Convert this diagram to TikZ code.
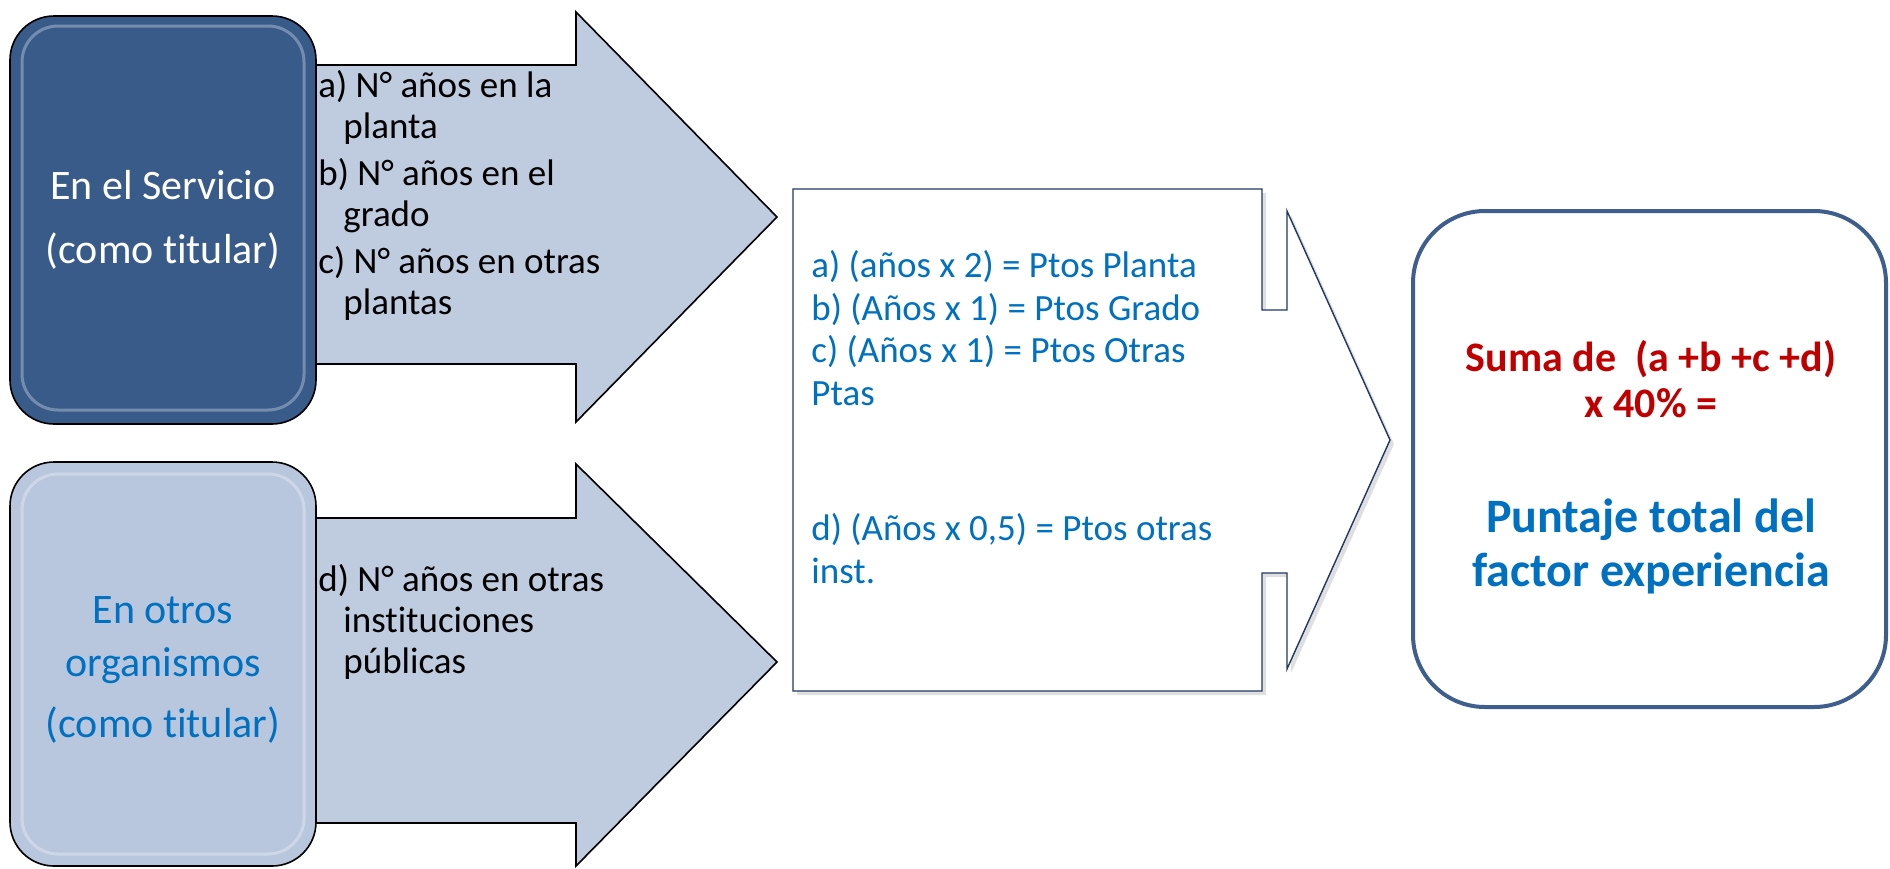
\documentclass[tikz,border=0pt]{standalone}
\usepackage{fontspec}
\setmainfont[Ligatures=NoCommon]{Carlito}
\usetikzlibrary{shadows}
\definecolor{darkbox}{HTML}{395B8A}
\definecolor{lightbox}{HTML}{B9C7DE}
\definecolor{arrowfill}{HTML}{BFCBDF}
\definecolor{txtblue}{HTML}{0070C0}
\definecolor{txtred}{HTML}{C00000}
\definecolor{frameblue}{HTML}{3E5F8E}
\definecolor{navy}{HTML}{1F3864}
\begin{document}
\begin{tikzpicture}[x=0.5pt,y=-0.5pt,
  arrowshape/.style={draw=black, line width=0.8pt, fill=arrowfill, line join=miter},
  srcbox/.style={draw=black, line width=0.8pt, rounded corners=22pt, minimum width=153pt, inner sep=0pt, align=center},
  lab/.style={font=\fontsize{18.5}{20.5}\selectfont, align=left, inner sep=0pt, anchor=north west},
  shine/.style={draw=white, opacity=0.3, line width=1.5pt, rounded corners=18pt}]
\useasboundingbox (0,0) rectangle (1890,868);
% arrows
\draw[arrowshape] (290,65) -- (576,65) -- (576,12) -- (777,217) -- (576,422) -- (576,364) -- (290,364) -- cycle;
\draw[arrowshape] (290,518) -- (576,518) -- (576,464) -- (777,662) -- (576,866) -- (576,823) -- (290,823) -- cycle;
% source boxes
\node[srcbox, fill=darkbox, minimum height=204pt, text=white,
      font=\fontsize{21}{32}\selectfont] (serv) at (163,220) {En el Servicio\\(como titular)};
\draw[shine] (22,26) rectangle (304,410);
\node[srcbox, fill=lightbox, minimum height=202pt, text=txtblue,
      font=\fontsize{21}{26.5}\selectfont] (otros) at (163,664) {};
\node[text=txtblue, font=\fontsize{21}{26.5}\selectfont, align=center, inner sep=0pt]
  (otrostxt) at (163,670) {En otros\\organismos\\[4pt](como titular)};
\draw[shine] (22,474) rectangle (304,854);
% arrow labels
\node[lab] (ta) at (318,70) {a) N° años en la\\\hspace*{12.5pt}planta\\[3pt]b) N° años en el\\\hspace*{12.5pt}grado\\[3pt]c) N° años en otras\\\hspace*{12.5pt}plantas};
\node[lab] (tb) at (318,564) {d) N° años en otras\\\hspace*{12.5pt}instituciones\\\hspace*{12.5pt}públicas};
% callout
\draw[draw=navy, line width=0.7pt, fill=white, line join=miter,
      drop shadow={opacity=0.25, shadow xshift=2pt, shadow yshift=-2pt}]
  (793,189) -- (1262,189) -- (1262,310) -- (1287,310) -- (1287,211) -- (1390,440)
  -- (1287,669) -- (1287,573) -- (1262,573) -- (1262,691) -- (793,691) -- cycle;
\node[lab, text=txtblue, font=\fontsize{18.5}{21.3}\selectfont] (calc) at (811,250)
  {a) (años x 2) = Ptos Planta\\b) (Años x 1) = Ptos Grado\\c) (Años x 1) = Ptos Otras\\Ptas\\[46.5pt]d) (Años x 0,5) = Ptos otras\\inst.};
% result box
\node[draw=frameblue, line width=2pt, rounded corners=36pt, fill=white,
      minimum width=236.5pt, minimum height=248pt] (res) at (1649.5,459) {};
\node[text=txtred, font=\fontsize{21}{23}\selectfont\bfseries, align=center, inner sep=0pt]
  (suma) at (1651,379) {Suma de\ \ (a +b +c +d)\\x 40\% =};
\node[text=txtblue, font=\fontsize{24}{27}\selectfont\bfseries, align=center, inner sep=0pt]
  (punt) at (1651,546) {Puntaje total del\\factor experiencia};
\end{tikzpicture}
\end{document}
